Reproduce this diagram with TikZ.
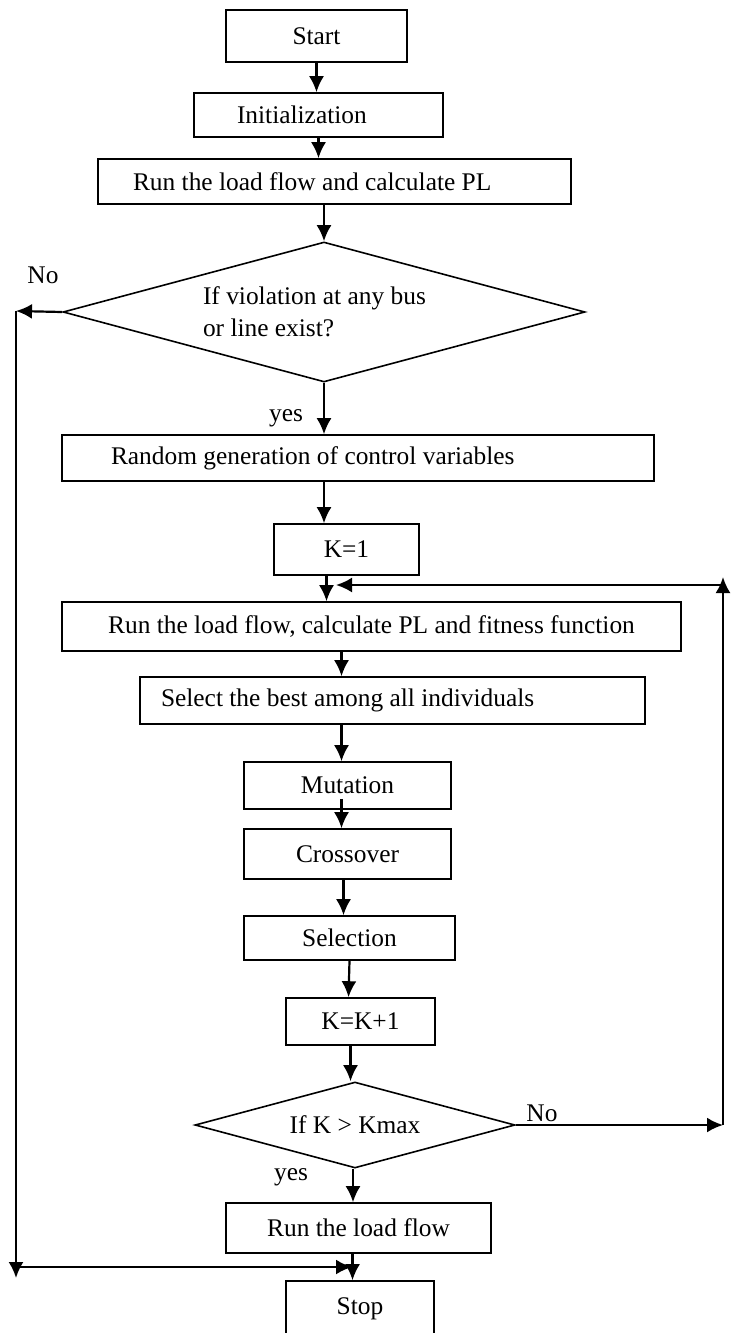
\documentclass[tikz,border=0pt]{standalone}
\usepackage{fontspec}
\setmainfont{Liberation Serif}
\usetikzlibrary{arrows.meta,shapes.geometric}

\begin{document}
\begin{tikzpicture}[x=0.5pt,y=-0.5pt,
    box/.style={draw,line width=0.8pt,rectangle,inner sep=0pt,font=\fontsize{12.7}{16}\selectfont},
    dec/.style={draw,line width=0.8pt,diamond,inner sep=0pt,shape aspect=3.7,font=\fontsize{12.7}{16}\selectfont},
    arr/.style={line width=1.1pt,-{Latex[length=8pt,width=7.5pt]}},
    lbl/.style={font=\fontsize{12.7}{16}\selectfont}]
\useasboundingbox (0,0) rectangle (732,1333);
% boxes
\node[box,minimum width=90.5pt,minimum height=26pt] (start) at (316.5,36) {Start};
\node[box,text width=81.5pt,inner xsep=21.5pt,align=flush left,minimum height=22pt] (init) at (318.5,115) {Initialization};
\node[box,text width=201.5pt,inner xsep=17.5pt,align=flush left,minimum height=22.5pt] (run1) at (334.5,181.5) {Run the load flow and calculate PL};
\node[dec,minimum width=261pt,minimum height=70pt,text width=121pt,align=flush left] (viol) at (324,312) {If violation at any bus\\or line exist?};
\node[box,text width=247pt,inner xsep=24.5pt,align=flush left,minimum height=23pt] (rand) at (358,458) {Random generation of control variables};
\node[box,minimum width=72.5pt,minimum height=25.5pt] (k1) at (346.5,549.5) {K=1};
\node[box,minimum width=309.5pt,minimum height=24.5pt] (run2) at (371.5,626.5) {Run the load flow, calculate PL and fitness function};
\node[box,text width=231.5pt,inner xsep=10.5pt,align=flush left,minimum height=23.5pt] (best) at (392.5,700.5) {Select the best among all individuals};
\node[box,minimum width=103.5pt,minimum height=23.5pt] (mut) at (347.5,785.5) {Mutation};
\node[box,minimum width=103.5pt,minimum height=25pt] (cross) at (347.5,854) {Crossover};
\node[box,minimum width=105.5pt,minimum height=22pt] (sel) at (349.5,938) {Selection};
\node[box,minimum width=74.5pt,minimum height=23.5pt] (kinc) at (360.5,1021.5) {K=K+1};
\node[dec,minimum width=160pt,minimum height=43pt] (kmax) at (355,1125) {If K > Kmax};
\node[box,minimum width=132.5pt,minimum height=25pt] (run3) at (358.5,1228) {Run the load flow};
\node[box,minimum width=74pt,minimum height=28pt] (stop) at (360,1309) {Stop};
% labels
\node[lbl] (no1) at (43,275) {No};
\node[lbl] (yes1) at (286,418) {yes};
\node[lbl] (no2) at (542,1113) {No};
\node[lbl] (yes2) at (291,1177) {yes};
% loop corners
\coordinate (lt) at (16,311);
\coordinate (lb) at (16,1278);
\coordinate (lm) at (16,1267);
\coordinate (lr) at (352,1267);
\coordinate (rb) at (723,1125);
\coordinate (rt) at (723,577);
\coordinate (rm) at (723,585);
\coordinate (lp) at (336,585);
% arrows
\draw[arr] (start.south) -- (start.south |- init.north);
\draw[arr] (init.south) -- (init.south |- run1.north);
\draw[arr] (viol.north |- run1.south) -- (viol.north);
\draw[arr] (viol.south) -- (viol.south |- rand.north);
\draw[arr] (viol.south |- rand.south) -- (viol.south |- k1.north);
\draw[arr] ([xshift=-10pt]k1.south) -- ([xshift=-10pt]k1.south |- run2.north);
\draw[arr] (rm) -- (lp);
\draw[arr] ([xshift=-15pt]run2.south) -- ([xshift=-15pt]run2.south |- best.north);
\draw[arr] ([xshift=-3pt]mut.north |- best.south) -- ([xshift=-3pt]mut.north);
\draw[arr] ([xshift=-3pt,yshift=5.5pt]mut.south) -- ([xshift=-3pt]cross.north);
\draw[arr] ([xshift=-2pt]cross.south) -- ([xshift=-2pt]cross.south |- sel.north);
\draw[arr] (sel.south) -- ([xshift=-6pt]kinc.north);
\draw[arr] ([xshift=-5pt]kinc.south) -- ([xshift=-5pt]kinc.south |- kmax.north);
\draw[arr] (kmax.east) -- (rb);
\draw[arr] (rb) -- (rt);
\draw[arr] ([xshift=-1pt]kmax.south) -- ([xshift=-1pt]kmax.south |- run3.north);
\draw[arr] ([xshift=-3pt]run3.south) -- ([xshift=-3pt]run3.south |- stop.north);
\draw[arr] (viol.west) -- (lt);
\draw[arr] (lt) -- (lb);
\draw[arr] (lm) -- (lr);
\end{tikzpicture}
\end{document}
